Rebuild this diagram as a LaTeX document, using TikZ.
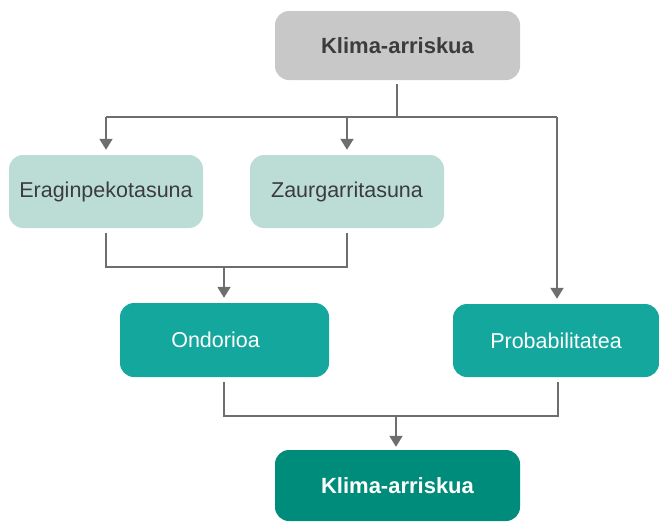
\documentclass[tikz,border=0pt]{standalone}
\usepackage{fontspec}
\setmainfont{Liberation Sans}
\usetikzlibrary{arrows.meta}
\definecolor{boxgray}{HTML}{C8C8C8}
\definecolor{txtdark}{HTML}{3C3C3C}
\definecolor{tealight}{HTML}{BBDDD6}
\definecolor{tealmid}{HTML}{14A79D}
\definecolor{tealdark}{HTML}{008C7B}
\definecolor{linegray}{HTML}{6E6E6E}
\tikzset{
  basebox/.style={rectangle, rounded corners=14pt, inner sep=0pt, align=center,
    font=\fontsize{21.5}{25}\selectfont},
  graybox/.style={basebox, fill=boxgray, text=txtdark, font=\fontsize{22}{26}\selectfont\bfseries},
  lightbox/.style={basebox, fill=tealight, text=txtdark},
  midbox/.style={basebox, fill=tealmid, text=white},
  darkbox/.style={basebox, fill=tealdark, text=white, font=\fontsize{22}{26}\selectfont\bfseries},
  conn/.style={draw=linegray, line width=2pt},
  arr/.style={conn, -{Triangle[length=11pt,width=13pt]}}
}
\begin{document}
\begin{tikzpicture}[x=1pt,y=-1pt]
\useasboundingbox (0,0) rectangle (659,523);
\node[graybox, minimum width=245pt, minimum height=69pt] (top) at (397.5,45.5) {Klima-arriskua};
\node[lightbox, minimum width=194pt, minimum height=73pt] (era) at (106,191.5) {Eraginpekotasuna};
\node[lightbox, minimum width=194pt, minimum height=73pt] (zau) at (347,191.5) {Zaurgarritasuna};
\node[midbox, minimum width=209pt, minimum height=74pt] (ond) at (224.5,340) {\hspace{-18pt}Ondorioa};
\node[midbox, minimum width=206pt, minimum height=73pt] (pro) at (556,340.5) {Probabilitatea};
\node[darkbox, minimum width=245pt, minimum height=71pt] (bot) at (397.5,485.5) {Klima-arriskua};
% junction coordinates
\coordinate (j1) at (397,117);
\coordinate (j1l) at (106,117);
\coordinate (j1m) at (347,117);
\coordinate (j1r) at (557,117);
\coordinate (j2l) at (106,267);
\coordinate (j2r) at (347,267);
\coordinate (j2) at (224,267);
\coordinate (j3l) at (224,416);
\coordinate (j3r) at (558,416);
\coordinate (j3) at (396,416);
% top splits
\draw[conn] ([yshift=-4pt]top.south -| j1) -- (j1);
\draw[conn] (j1l) -- (j1r);
\draw[arr, shorten >=5pt] (j1l) -- (era.north);
\draw[arr, shorten >=5pt] (j1m) -- (zau.north);
\draw[arr, shorten >=5pt] (j1r) -- (pro.north -| j1r);
% middle merge
\draw[conn] ([yshift=-5pt]era.south) -- (j2l) -- (j2r) -- ([yshift=-5pt]zau.south);
\draw[arr, shorten >=5pt] (j2) -- (ond.north -| j2);
% bottom merge
\draw[conn] ([yshift=-5pt]ond.south -| j3l) -- (j3l) -- (j3r) -- ([yshift=-5pt]pro.south -| j3r);
\draw[arr, shorten >=3pt] (j3) -- (bot.north -| j3);
\end{tikzpicture}
\end{document}
